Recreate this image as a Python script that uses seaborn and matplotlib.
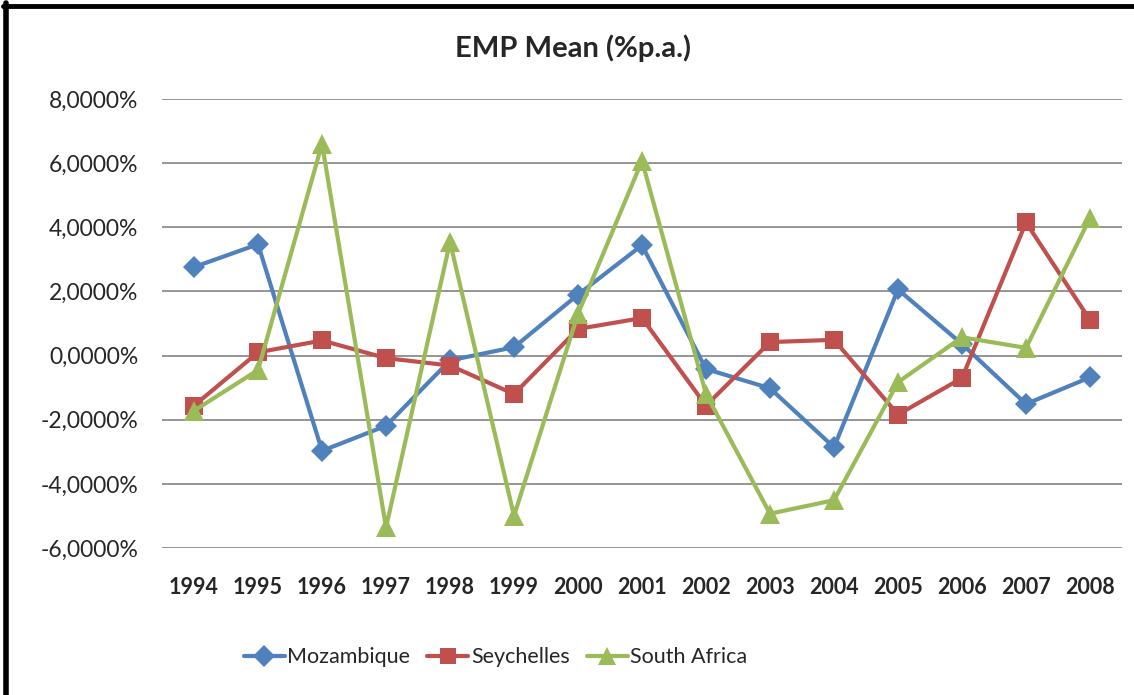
import pandas as pd
import matplotlib.pyplot as plt
import seaborn as sns
from matplotlib.lines import Line2D
from matplotlib.ticker import FuncFormatter

years = list(range(1994, 2009))
mozambique = [2.76, 3.47, -2.97, -2.19, -0.15, 0.26, 1.90, 3.44, -0.42, -1.02, -2.86, 2.06, 0.36, -1.51, -0.68]
seychelles = [-1.56, 0.10, 0.47, -0.08, -0.31, -1.20, 0.83, 1.17, -1.56, 0.42, 0.49, -1.84, -0.70, 4.15, 1.11]
south_africa = [-1.72, -0.45, 6.60, -5.36, 3.54, -5.00, 1.30, 6.07, -1.20, -4.93, -4.51, -0.83, 0.57, 0.24, 4.29]
countries = ['Mozambique', 'Seychelles', 'South Africa']
colors = ['#4F81BD', '#C0504D', '#9BBB59']
markers = ['D', 's', '^']

df = pd.DataFrame({'Year': years, 'Mozambique': mozambique,
                   'Seychelles': seychelles, 'South Africa': south_africa})
long_df = df.melt(id_vars='Year', var_name='Country', value_name='EMP')

sns.set_style('white')
plt.rcParams['font.family'] = ['Lato', 'DejaVu Sans']

fig = plt.figure(figsize=(11.34, 6.95), dpi=100)
ax = fig.add_axes([0.1429, 0.2115, 0.8465, 0.6461])

sns.lineplot(data=long_df, x='Year', y='EMP', hue='Country', style='Country',
             palette=dict(zip(countries, colors)),
             markers=dict(zip(countries, markers)), dashes=False,
             linewidth=3, markersize=12.5, markeredgewidth=0, legend=False, ax=ax)
# marker sizes closer to Excel
for line in ax.lines:
    if line.get_marker() == '^':
        line.set_markersize(14)
    elif line.get_marker() == 'D':
        line.set_markersize(11.5)

ax.set_xlim(1993.5, 2008.5)
ax.set_ylim(-6, 8)
ax.set_xticks(years)
ax.set_yticks(range(-6, 9, 2))
ax.yaxis.set_major_formatter(FuncFormatter(lambda v, p: f'{v:.4f}%'.replace('.', ',')))
ax.grid(axis='y', color='#8c8c8c', linewidth=1.3)
ax.set_axisbelow(True)
for s in ax.spines.values():
    s.set_visible(False)
ax.tick_params(axis='both', length=0)
ax.tick_params(axis='y', labelsize=16.5, pad=17)
ax.tick_params(axis='x', labelsize=15.5, pad=21)
for t in ax.get_xticklabels():
    t.set_fontweight('bold')
ax.set_xlabel('')
ax.set_ylabel('')

fig.text(0.505, 0.931, 'EMP Mean (%p.a.)', ha='center', va='center',
         fontsize=21, fontweight='bold')

handles = [Line2D([], [], color=c, marker=m, linewidth=3, markersize=11 if m != '^' else 13,
                  markeredgewidth=0) for c, m in zip(colors, markers)]
fig.legend(handles, countries, loc='center', bbox_to_anchor=(0.437, 0.054), ncol=3,
           frameon=False, fontsize=15.5, handlelength=1.9, handletextpad=0.12,
           columnspacing=0.8)

# black frame on left and top
fig.add_artist(Line2D([5.5 / 1134, 5.5 / 1134], [0, 1 - 3 / 695], color='black',
                      linewidth=4, transform=fig.transFigure))
fig.add_artist(Line2D([3 / 1134, 1], [1 - 6 / 695, 1 - 6 / 695], color='black',
                      linewidth=3.5, transform=fig.transFigure))

plt.savefig('out.png', dpi=100)
